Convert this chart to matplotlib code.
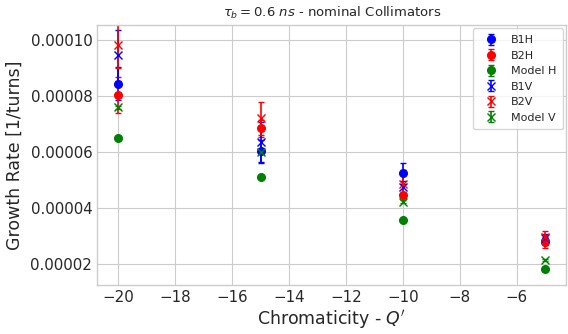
import matplotlib
matplotlib.use("Agg")
import matplotlib.pyplot as plt
import numpy as np

plt.style.use("seaborn-v0_8-whitegrid")
plt.rcParams["font.family"] = ["DejaVu Sans"]

chroma = [-20, -15, -10, -5]

b1h = [0.0000845, 0.0000602, 0.0000524, 0.0000281]
b1h_err = [0.0000059, 0.0000040, 0.0000038, 0.0000015]
b2h = [0.0000804, 0.0000685, 0.0000445, 0.0000280]
b2h_err = [0.0000064, 0.0000030, 0.0000010, 0.0000023]
model_h = [0.0000649, 0.0000510, 0.0000357, 0.0000182]
model_h_err = [0.0, 0.0, 0.0, 0.0]

b1v = [0.0000946, 0.0000635, 0.0000475, 0.0000293]
b1v_err = [0.0000092, 0.0000072, 0.0000020, 0.0000015]
b2v = [0.0000982, 0.0000720, 0.0000485, 0.0000297]
b2v_err = [0.0000083, 0.0000058, 0.0000050, 0.0000022]
model_v = [0.0000760, 0.0000600, 0.0000422, 0.0000214]
model_v_err = [0.0000005, 0.0000005, 0.0000005, 0.0000004]

fig = plt.figure(figsize=(5.68, 3.34), dpi=100)
ax = fig.add_axes([0.171, 0.147, 0.826, 0.778])

series = [
    (b1h, b1h_err, "o", "blue", "B1H"),
    (b2h, b2h_err, "o", "red", "B2H"),
    (model_h, model_h_err, "o", "green", "Model H"),
    (b1v, b1v_err, "x", "blue", "B1V"),
    (b2v, b2v_err, "x", "red", "B2V"),
    (model_v, model_v_err, "x", "green", "Model V"),
]
for vals, errs, mk, col, lab in series:
    ax.errorbar(chroma, vals, yerr=errs, fmt=mk, color=col, capsize=2.5,
                markersize=5.5, mew=1.0, elinewidth=1.2, label=lab)

ax.set_xlim(-20.75, -4.25)
ax.set_ylim(0.0000125, 0.0001054)
ax.set_yticks([0.00002, 0.00004, 0.00006, 0.00008, 0.00010])
ax.set_yticklabels(["0.00002", "0.00004", "0.00006", "0.00008", "0.00010"])
ax.tick_params(labelsize=10.8)
ax.set_xlabel("Chromaticity - $Q'$", fontsize=12.5, labelpad=2)
ax.set_ylabel("Growth Rate [1/turns]", fontsize=12.5, labelpad=5)
ax.set_title(r"$\tau_b = 0.6\ ns$ - nominal Collimators", fontsize=9.5)
ax.legend(loc="upper right", frameon=True, fontsize=8, borderpad=0.6,
          borderaxespad=0.3)

fig.savefig("out.png", dpi=100)
